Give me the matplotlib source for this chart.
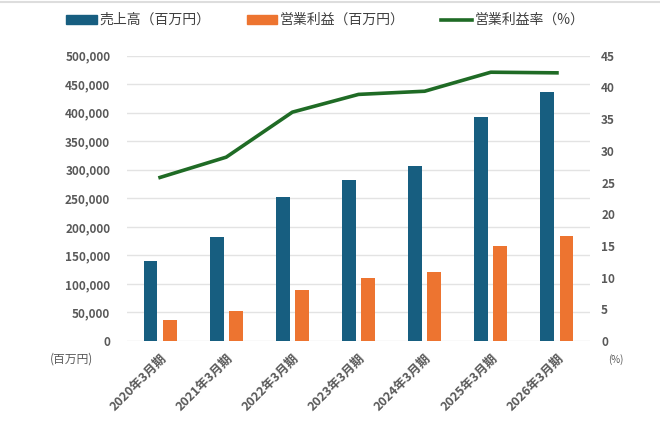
import numpy as np
import matplotlib
matplotlib.use('Agg')
import matplotlib.pyplot as plt
from matplotlib.lines import Line2D
from matplotlib.patches import Patch

plt.rcParams['font.family'] = ['Noto Sans CJK JP', 'DejaVu Sans']

periods = ['2020年3月期', '2021年3月期', '2022年3月期', '2023年3月期',
           '2024年3月期', '2025年3月期', '2026年3月期']
sales = [140000, 182000, 253000, 283000, 307000, 393000, 436000]
op_profit = [36000, 52000, 90000, 110000, 121000, 166000, 184000]
op_margin = [25.8, 29.0, 36.1, 38.9, 39.4, 42.4, 42.3]

blue = '#175e80'
orange = '#ed7430'
green = '#1f6b25'
gray = '#595959'

fig = plt.figure(figsize=(6.6, 4.29), dpi=100)
ax = fig.add_axes([0.1924, 0.2051, 0.7016, 0.665])
ax2 = ax.twinx()

x = np.arange(len(periods))
w = 0.21
ax.bar(x - 0.144, sales, w, color=blue, zorder=3)
ax.bar(x + 0.144, op_profit, w, color=orange, zorder=3)
ax2.plot(x, op_margin, color=green, lw=2.6, zorder=4)

ax.set_xlim(-0.5, 6.5)
ax.set_ylim(0, 500000)
ax2.set_ylim(0, 45)
ax.set_yticks(np.arange(0, 500001, 50000))
ax2.set_yticks(np.arange(0, 46, 5))
ax.set_yticklabels([f'{v:,}' for v in range(0, 500001, 50000)])
ax.grid(axis='y', color='#e3e3e3', lw=1, zorder=0)
ax.set_axisbelow(True)

for a in (ax, ax2):
    for s in a.spines.values():
        s.set_visible(False)
    a.tick_params(length=0, colors=gray, labelsize=8.5)
    for lbl in a.get_yticklabels():
        lbl.set_fontweight('bold')
ax.tick_params(axis='y', pad=12)
ax2.tick_params(axis='y', pad=8)

ax.set_xticks(x)
ax.set_xticklabels(periods, rotation=45, ha='right', rotation_mode='anchor',
                   fontweight='bold', fontsize=9, color=gray)
ax.tick_params(axis='x', pad=8)

fig.text(0.075, 0.163, '(百万円)', fontsize=8.5, color=gray, ha='left', va='center')
fig.text(0.922, 0.161, '(%)', fontsize=7, color=gray, ha='left', va='center')

handles = [Patch(color=blue), Patch(color=orange), Line2D([], [], color=green, lw=2.6)]
labels = ['売上高（百万円）', '営業利益（百万円）', '営業利益率（%）']
fig.legend(handles, labels, loc='center', bbox_to_anchor=(0.493, 0.953), ncol=3,
           frameon=False, fontsize=10, handlelength=2.2, handleheight=0.6,
           handletextpad=0.2, columnspacing=2.6, labelcolor='#404040')

fig.add_artist(Line2D([0, 1], [0.995, 0.995], color='#dddddd', lw=1.5))

fig.savefig('out.png', dpi=100)
